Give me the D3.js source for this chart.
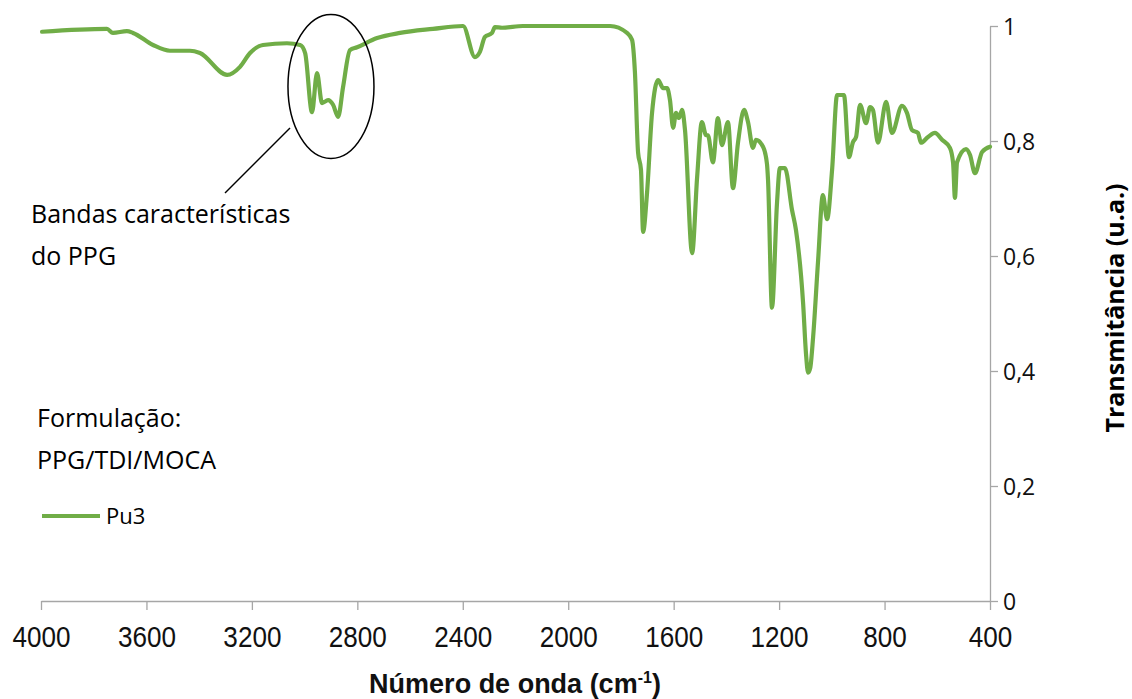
<!DOCTYPE html>
<html>
<head lang="pt-BR">
    <meta charset="utf-8">
    <title>FTIR Pu3</title>
    <style type="text/css">
        body {
            margin: 0;
            background-color: #fff;
        }

        .axis path, .axis line {
            stroke: #a6a6a6;
            stroke-width: 1.3;
        }

        .xlab {
            font-family: "Liberation Sans", sans-serif;
            font-size: 29px;
            fill: #111;
        }

        .ylab {
            font-family: "Open Sans", sans-serif;
            font-size: 23px;
            fill: #111;
        }

        .note {
            font-family: "Open Sans", sans-serif;
            font-size: 25px;
            fill: #000;
        }
    </style>
</head>
<body>
<script src="https://cdnjs.cloudflare.com/ajax/libs/d3/7.8.5/d3.min.js"></script>
<script type="text/javascript">
    // numero de onda (cm-1)
    var wavenumber = [3996, 3750, 3727, 3674, 3651, 3575, 3511, 3435, 3397, 3294,
        3245, 3207, 3158, 3067, 3017, 2998, 2972, 2953, 2934, 2911,
        2892, 2873, 2854, 2828, 2801, 2725, 2638, 2513, 2399, 2354,
        2335, 2316, 2289, 2278, 2251, 2172, 1982, 1841, 1777, 1758,
        1747, 1735, 1724, 1716, 1701, 1682, 1659, 1640, 1625, 1614,
        1602, 1591, 1580, 1568, 1557, 1530, 1511, 1493, 1477, 1470,
        1451, 1432, 1417, 1394, 1375, 1356, 1333, 1318, 1299, 1288,
        1261, 1246, 1242, 1227, 1208, 1197, 1178, 1151, 1136, 1109,
        1098, 1090, 1082, 1071, 1052, 1034, 1018, 999, 980, 954, 935, 920,
        908, 893, 870, 855, 844, 825, 794, 772, 734, 715,
        696, 673, 662, 635, 609, 582, 552, 540, 533, 525,
        491, 476, 457, 430, 400];

    // transmitancia Pu3
    var pu3 = [0.990, 0.995, 0.988, 0.991, 0.988, 0.967, 0.957, 0.957, 0.953, 0.915,
        0.929, 0.953, 0.967, 0.970, 0.967, 0.953, 0.850, 0.918, 0.866, 0.871,
        0.863, 0.842, 0.894, 0.958, 0.963, 0.979, 0.988, 0.995, 1.000, 0.946,
        0.955, 0.981, 0.988, 0.998, 0.997, 1.000, 1.000, 1.000, 0.988, 0.976,
        0.920, 0.780, 0.750, 0.642, 0.710, 0.849, 0.906, 0.892, 0.892, 0.871,
        0.823, 0.849, 0.840, 0.854, 0.819, 0.605, 0.737, 0.833, 0.810, 0.810,
        0.763, 0.840, 0.793, 0.833, 0.718, 0.797, 0.854, 0.833, 0.788, 0.802,
        0.790, 0.760, 0.732, 0.510, 0.692, 0.753, 0.753, 0.680, 0.645, 0.518,
        0.430, 0.397, 0.405, 0.459, 0.593, 0.706, 0.664, 0.750, 0.880, 0.880, 0.772, 0.798,
        0.807, 0.863, 0.831, 0.859, 0.854, 0.797, 0.868, 0.814, 0.861, 0.849,
        0.819, 0.814, 0.797, 0.807, 0.814, 0.802, 0.788, 0.762, 0.701, 0.763,
        0.786, 0.776, 0.744, 0.781, 0.790];

    var xTicks = [4000, 3600, 3200, 2800, 2400, 2000, 1600, 1200, 800, 400];
    var yTicks = [0, 0.2, 0.4, 0.6, 0.8, 1];

    var W = 1132, H = 699;
    var plotLeft = 41, plotRight = 990, plotTop = 26, plotBottom = 601;

    var svg = d3.select("body")
        .append("svg")
        .attr("width", W)
        .attr("height", H);

    var x = d3.scaleLinear().domain([4000, 400]).range([plotLeft, plotRight]);
    var y = d3.scaleLinear().domain([0, 1]).range([plotBottom, plotTop]);

    // eixo x
    var gx = svg.append("g")
        .attr("class", "axis")
        .attr("transform", "translate(0," + plotBottom + ")")
        .call(d3.axisBottom(x).tickValues(xTicks).tickSize(9).tickSizeOuter(0).tickFormat(d3.format("d")));
    gx.selectAll("text")
        .attr("class", "xlab")
        .attr("dy", null)
        .attr("y", 46)
        .attr("transform", "scale(0.9,1)");

    // eixo y (a direita)
    var gy = svg.append("g")
        .attr("class", "axis")
        .attr("transform", "translate(" + plotRight + ",0)")
        .call(d3.axisRight(y).tickValues(yTicks).tickSize(8).tickSizeOuter(0)
            .tickFormat(function (d) { return d3.format(".1~f")(d).replace(".", ","); }));
    gy.selectAll("text").attr("class", "ylab").attr("x", 13).attr("dy", "0.36em");

    // titulos dos eixos
    var xt = svg.append("text")
        .attr("x", 515)
        .attr("y", 693)
        .attr("text-anchor", "middle")
        .attr("class", "xlab")
        .style("font-weight", "bold")
        .style("font-size", "27px")
        .text("Número de onda (cm");
    xt.append("tspan").attr("dy", -10).style("font-size", "16px").text("-1");
    xt.append("tspan").attr("dy", 10).text(")");

    svg.append("text")
        .attr("transform", "translate(1124,308) rotate(-90)")
        .attr("text-anchor", "middle")
        .attr("class", "note")
        .style("font-weight", "bold")
        .style("font-size", "25px")
        .text("Transmitância (u.a.)");

    // espectro
    var line = d3.line()
        .x(function (d, i) { return x(wavenumber[i]); })
        .y(function (d) { return y(d); })
        .curve(d3.curveMonotoneX);

    svg.append("path")
        .datum(pu3)
        .attr("d", line)
        .attr("fill", "none")
        .attr("stroke", "#70ad47")
        .attr("stroke-width", 4.2)
        .attr("stroke-linejoin", "round")
        .attr("stroke-linecap", "round");

    // destaque das bandas do PPG
    svg.append("ellipse")
        .attr("cx", x(2900))
        .attr("cy", y(0.895))
        .attr("rx", 43)
        .attr("ry", 72)
        .attr("fill", "none")
        .attr("stroke", "#000")
        .attr("stroke-width", 1.5);

    svg.append("line")
        .attr("x1", 290).attr("y1", 128)
        .attr("x2", 225).attr("y2", 193)
        .attr("stroke", "#000")
        .attr("stroke-width", 1.5);

    svg.append("text").attr("class", "note").attr("x", 31).attr("y", 223).text("Bandas características");
    svg.append("text").attr("class", "note").attr("x", 31).attr("y", 265).text("do PPG");

    // legenda
    svg.append("text").attr("class", "note").attr("x", 37).attr("y", 427).text("Formulação:");
    svg.append("text").attr("class", "note").attr("x", 37).attr("y", 469).text("PPG/TDI/MOCA");

    svg.append("line")
        .attr("x1", 42).attr("y1", 516)
        .attr("x2", 100).attr("y2", 516)
        .attr("stroke", "#70ad47")
        .attr("stroke-width", 4.2);
    svg.append("text").attr("class", "note").attr("x", 106).attr("y", 524)
        .style("font-size", "22px").text("Pu3");
</script>
</body>
</html>
